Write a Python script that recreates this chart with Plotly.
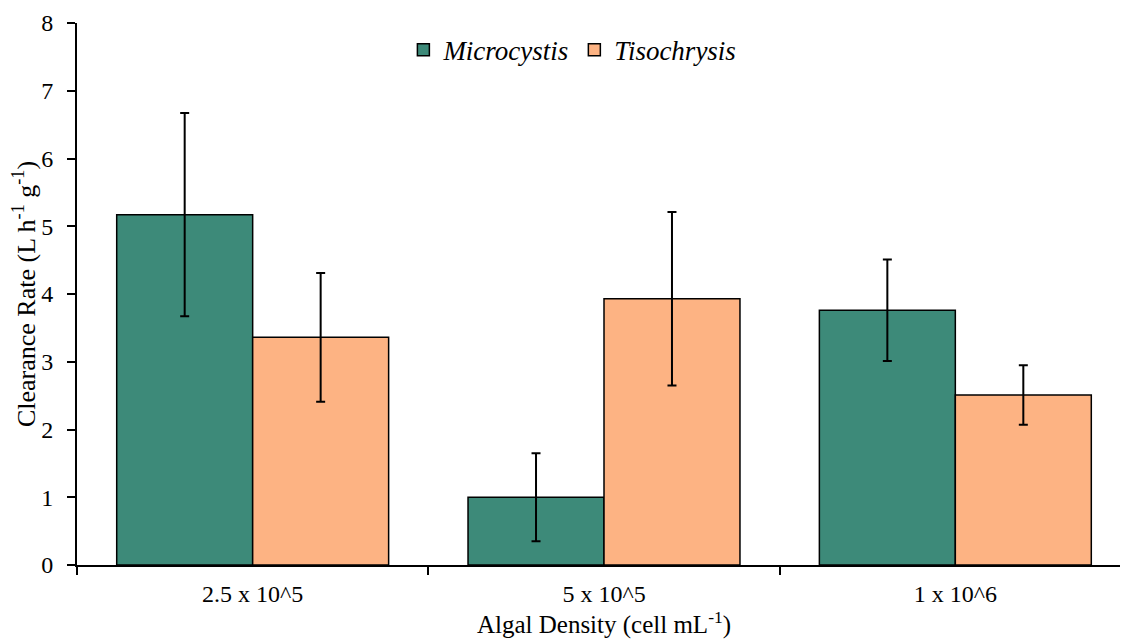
import plotly.graph_objects as go

categories = ["2.5 x 10^5", "5 x 10^5", "1 x 10^6"]
micro_vals = [5.17, 1.0, 3.76]
micro_err = [1.5, 0.65, 0.75]
tiso_vals = [3.36, 3.93, 2.51]
tiso_err = [0.95, 1.28, 0.44]

FONT = "Liberation Serif"

fig = go.Figure()
fig.add_trace(go.Bar(
    name="<i>Microcystis</i>", x=categories, y=micro_vals,
    marker=dict(color="#3D8A79", line=dict(color="black", width=1.5)),
    error_y=dict(type="data", array=micro_err, visible=True, color="black", thickness=2, width=4.5),
))
fig.add_trace(go.Bar(
    name="<i>Tisochrysis</i>", x=categories, y=tiso_vals,
    marker=dict(color="#FDB383", line=dict(color="black", width=1.5)),
    error_y=dict(type="data", array=tiso_err, visible=True, color="black", thickness=2, width=4.5),
))

fig.update_layout(
    width=1128, height=643,
    margin=dict(l=69, r=5, t=15, b=86),
    barmode="group", bargap=0.226, bargroupgap=0,
    plot_bgcolor="white", paper_bgcolor="white",
    font=dict(family=FONT, size=24, color="black"),
    showlegend=True,
    legend=dict(orientation="h", x=0.47, xanchor="center", y=0.95, yanchor="middle",
                font=dict(family=FONT, size=27), bgcolor="rgba(0,0,0,0)"),
    xaxis=dict(
        automargin=False,
        showline=True, linecolor="black", linewidth=2,
        ticks="outside", tickson="boundaries", ticklen=8, tickwidth=2, tickcolor="black",
        ticklabelstandoff=6,
        tickfont=dict(family=FONT, size=24), showgrid=False,
        title=dict(text="Algal Density (cell mL<sup>-1</sup>)", font=dict(family=FONT, size=25), standoff=8),
    ),
    yaxis=dict(
        automargin=False,
        range=[0, 8], dtick=1, showline=True, linecolor="black", linewidth=2,
        ticks="outside", ticklen=8, tickwidth=2, tickcolor="black",
        ticklabelstandoff=9,
        tickfont=dict(family=FONT, size=24), showgrid=False, zeroline=False,
        title=dict(text="Clearance Rate (L h<sup>-1</sup> g<sup>-1</sup>)", font=dict(family=FONT, size=26), standoff=8),
    ),
)

fig.write_html("out.html")
